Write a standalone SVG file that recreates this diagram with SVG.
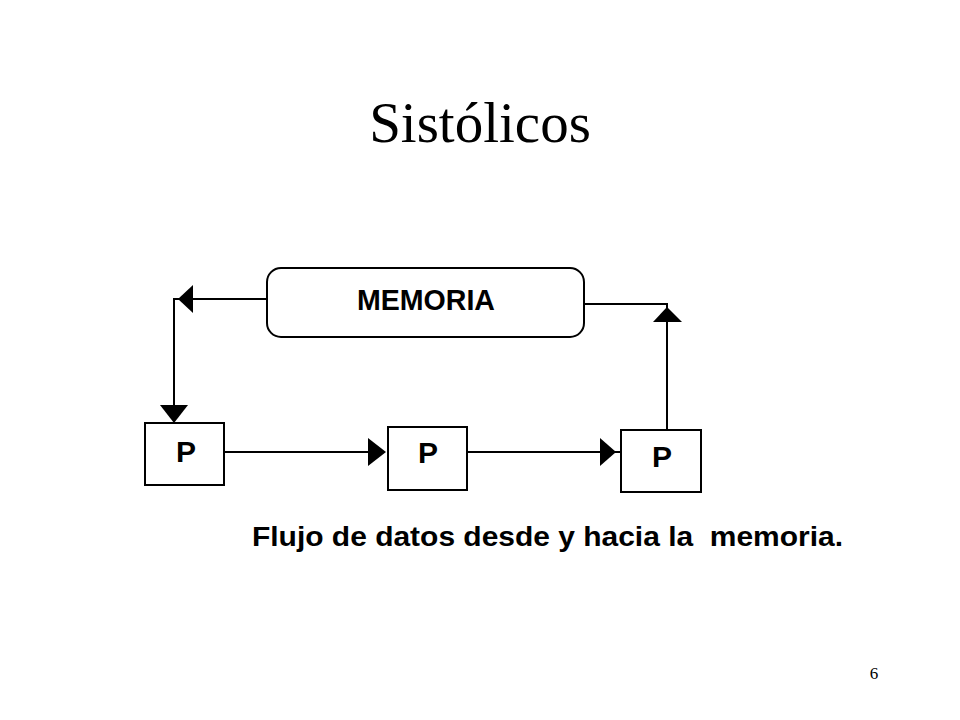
<svg xmlns="http://www.w3.org/2000/svg" width="960" height="720" viewBox="0 0 960 720">
<style>
.box{fill:#fff;stroke:#000;stroke-width:2}
.ln{fill:none;stroke:#000;stroke-width:2}
.head{fill:#000}
.lbl{font-family:"Liberation Sans",Arial,sans-serif;font-weight:bold;fill:#000}
</style>
<rect width="960" height="720" fill="#fff"/>
<text x="480" y="142" text-anchor="middle" font-family="Liberation Serif,'Times New Roman',serif" font-size="57" fill="#000">Sistólicos</text>
<g id="connectors">
<polyline class="ln" points="267,299 174,299 174,406"/>
<polygon class="head" points="178,299 193,285 193,313"/>
<polygon class="head" points="160,405 188,405 174,423"/>
<polyline class="ln" points="584,304 667,304 667,430"/>
<polygon class="head" points="667,307 653,322 682,322"/>
<line class="ln" x1="224" y1="452" x2="370" y2="452"/>
<polygon class="head" points="368,438 386,452 368,466"/>
<line class="ln" x1="467" y1="452" x2="602" y2="452"/>
<polygon class="head" points="600,438 616,452 600,466"/>
<line class="ln" x1="615" y1="452" x2="621" y2="452"/>
</g>
<g id="memoria">
<rect class="box" x="267" y="268" width="317" height="69" rx="14" ry="14"/>
<text class="lbl" x="357" y="310" font-size="29" textLength="138" lengthAdjust="spacingAndGlyphs">MEMORIA</text>
</g>
<g id="p1">
<rect class="box" x="145" y="423" width="79" height="62"/>
<text class="lbl" x="186" y="462" font-size="30" text-anchor="middle">P</text>
</g>
<g id="p2">
<rect class="box" x="388" y="427" width="79" height="63"/>
<text class="lbl" x="428" y="463" font-size="30" text-anchor="middle">P</text>
</g>
<g id="p3">
<rect class="box" x="621" y="430" width="80" height="62"/>
<text class="lbl" x="662" y="467" font-size="30" text-anchor="middle">P</text>
</g>
<text class="lbl" xml:space="preserve" x="252" y="546" font-size="28" textLength="591" lengthAdjust="spacingAndGlyphs">Flujo de datos desde y hacia la  memoria.</text>
<text x="874" y="679" text-anchor="middle" font-family="Liberation Serif,'Times New Roman',serif" font-size="17" fill="#000">6</text>
</svg>
